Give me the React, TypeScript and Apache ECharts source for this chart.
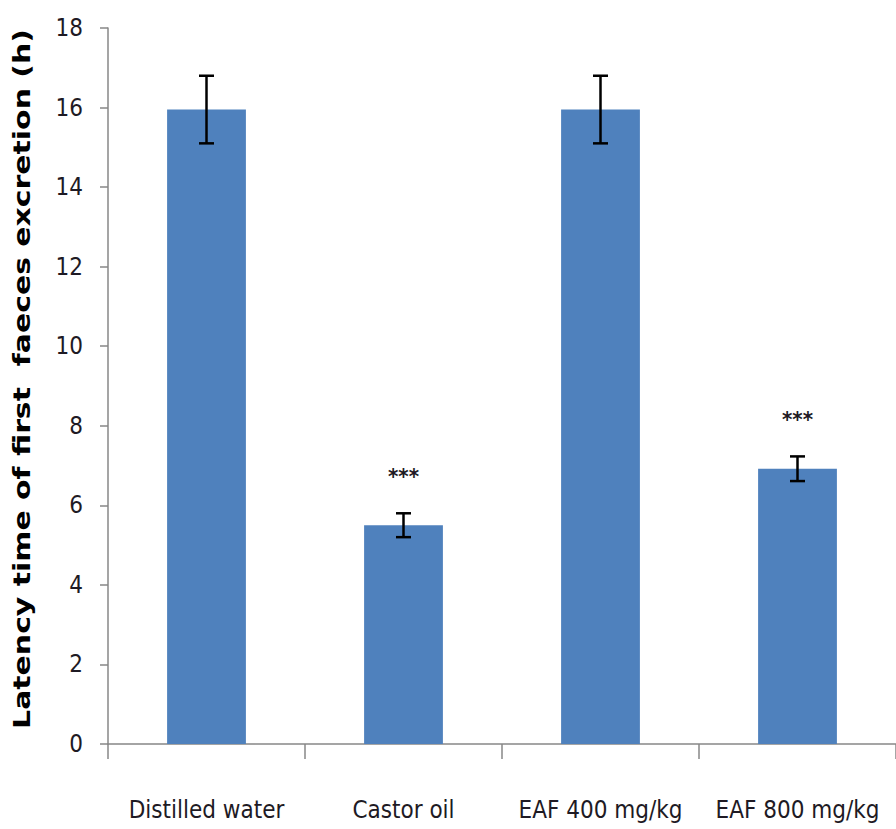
import React, { useEffect, useRef } from "react";
import * as echarts from "echarts";

const categories = ["Distilled water", "Castor oil", "EAF 400 mg/kg", "EAF 800 mg/kg"];
const means = [15.95, 5.5, 15.95, 6.92];
const errors = [0.85, 0.3, 0.85, 0.31];
const stars = ["", "***", "", "***"];
const yTicks = { min: 0, max: 18, interval: 2 };
const yTitle = "Latency time of first  faeces excretion (h)";

const narrow = "'DejaVu Sans Condensed', 'Liberation Sans Narrow', sans-serif";

export default function App() {
  const ref = useRef<HTMLDivElement>(null);
  useEffect(() => {
    if (!ref.current) return;
    const chart = echarts.init(ref.current, null, { renderer: "svg" });
    const errData = means.map((m, i) => [i, m - errors[i], m + errors[i]]);
    chart.setOption({
      animation: false,
      backgroundColor: "#ffffff",
      grid: { left: 108, top: 28, bottom: 85, width: 794, containLabel: false },
      graphic: [
        {
          type: "text",
          x: 22,
          y: 379,
          rotation: Math.PI / 2,
          scaleX: 1.3,
          style: {
            text: yTitle,
            align: "center",
            verticalAlign: "middle",
            fontSize: 23,
            fontWeight: "bold",
            fontFamily: "'DejaVu Sans', Verdana, sans-serif",
            fill: "#000",
          },
        },
      ],
      xAxis: {
        type: "category",
        data: categories,
        axisLine: { lineStyle: { color: "#878787", width: 1.5 } },
        axisTick: { show: true, length: 15, lineStyle: { color: "#878787", width: 1.5 } },
        axisLabel: { color: "#1e1a24", fontSize: 24, fontFamily: narrow, margin: 54, interval: 0 },
      },
      yAxis: {
        type: "value",
        min: yTicks.min,
        max: yTicks.max,
        interval: yTicks.interval,
        splitLine: { show: false },
        axisLine: { show: true, lineStyle: { color: "#878787", width: 1.5 } },
        axisTick: { show: true, inside: false, length: 8, lineStyle: { color: "#878787", width: 1.5 } },
        axisLabel: { color: "#1e1a24", fontSize: 24, fontFamily: narrow, margin: 25 },
      },
      series: [
        {
          type: "bar",
          data: means,
          barWidth: "40%",
          itemStyle: { color: "#4f81bd" },
        },
        {
          type: "custom",
          data: errData,
          z: 10,
          renderItem: (params: any, api: any) => {
            const x = api.value(0);
            const lo = api.coord([x, api.value(1)]);
            const hi = api.coord([x, api.value(2)]);
            const cap = 7.5;
            const style = { stroke: "#000", lineWidth: 2.5 };
            const children: any[] = [
              { type: "line", shape: { x1: lo[0], y1: lo[1], x2: hi[0], y2: hi[1] }, style },
              { type: "line", shape: { x1: lo[0] - cap, y1: lo[1], x2: lo[0] + cap, y2: lo[1] }, style },
              { type: "line", shape: { x1: hi[0] - cap, y1: hi[1], x2: hi[0] + cap, y2: hi[1] }, style },
            ];
            const s = stars[params.dataIndex];
            if (s) {
              children.push({
                type: "text",
                style: {
                  text: s,
                  x: hi[0],
                  y: hi[1] - 37,
                  align: "center",
                  verticalAlign: "middle",
                  fontSize: 22,
                  fontWeight: "bold",
                  fontFamily: narrow,
                  fill: "#1e1a24",
                },
              });
            }
            return { type: "group", children };
          },
        },
      ],
    });
    return () => chart.dispose();
  }, []);
  return <div ref={ref} style={{ width: 896, height: 829, position: "absolute", left: 0, top: 0 }} />;
}
